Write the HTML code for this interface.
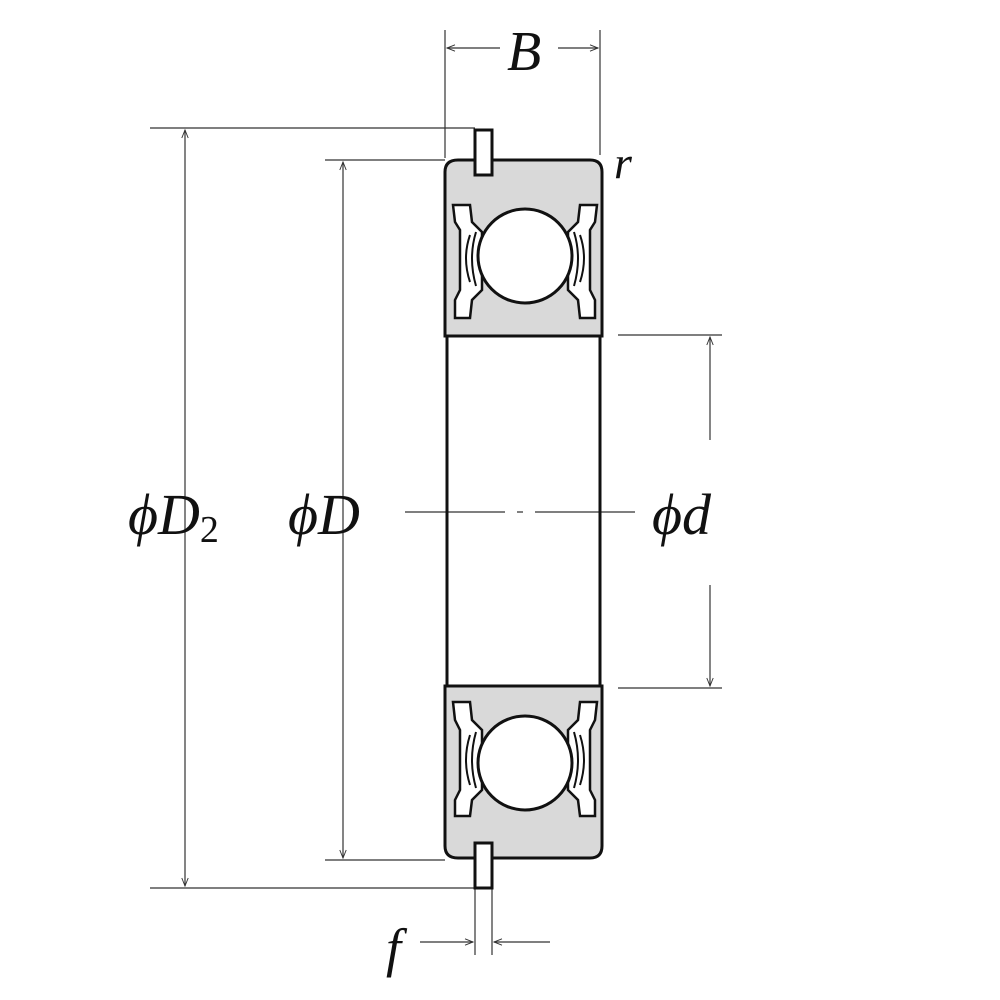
<!DOCTYPE html>
<html><head><style>
html,body{margin:0;padding:0;background:#fff}
svg{display:block}
text{font-family:"Liberation Serif",serif;font-style:italic;fill:#111}
</style></head><body>
<svg width="1000" height="1000" viewBox="0 0 1000 1000" xmlns="http://www.w3.org/2000/svg">
<defs>
<marker id="a" viewBox="0 0 10 10" refX="10" refY="5" markerWidth="12" markerHeight="8" orient="auto-start-reverse" markerUnits="userSpaceOnUse"><path d="M0,1 L10,5 L0,9" fill="none" stroke="#333" stroke-width="1.2"/></marker>
</defs>
<g stroke="#333" stroke-width="1.2" fill="none">
<line x1="150" y1="128" x2="475" y2="128"/>
<line x1="150" y1="888" x2="475" y2="888"/>
<line x1="325" y1="160" x2="445" y2="160"/>
<line x1="325" y1="860" x2="445" y2="860"/>
<line x1="618" y1="335" x2="722" y2="335"/>
<line x1="618" y1="688" x2="722" y2="688"/>
<line x1="445" y1="30" x2="445" y2="158"/>
<line x1="600" y1="30" x2="600" y2="155"/>
<line x1="185" y1="130" x2="185" y2="886" marker-start="url(#a)" marker-end="url(#a)"/>
<line x1="343" y1="162" x2="343" y2="858" marker-start="url(#a)" marker-end="url(#a)"/>
<line x1="710" y1="337" x2="710" y2="440" marker-start="url(#a)"/>
<line x1="710" y1="585" x2="710" y2="686" marker-end="url(#a)"/>
<line x1="447" y1="48" x2="500" y2="48" marker-start="url(#a)"/>
<line x1="558" y1="48" x2="598" y2="48" marker-end="url(#a)"/>
<line x1="475" y1="880" x2="475" y2="955"/>
<line x1="492" y1="880" x2="492" y2="955"/>
<line x1="420" y1="942" x2="473" y2="942" marker-end="url(#a)"/>
<line x1="550" y1="942" x2="494" y2="942" marker-end="url(#a)"/>
<line x1="405" y1="512" x2="640" y2="512" stroke-dasharray="100,12,6,12"/>
</g>
<g stroke="#111" stroke-width="3">
<path d="M458,160 H475 V175 H492 V160 H590 Q602,160 602,172 V336 H445 V172 Q445,160 458,160 Z" fill="#d9d9d9"/>
<path d="M445,686 H602 V846 Q602,858 590,858 H492 V843 H475 V858 H458 Q445,858 445,846 Z" fill="#d9d9d9"/>
<line x1="447" y1="336" x2="447" y2="686"/>
<line x1="600" y1="336" x2="600" y2="686"/>
<rect x="475" y="130" width="17" height="45" fill="#fff"/>
<rect x="475" y="843" width="17" height="45" fill="#fff"/>
</g>
<g stroke="#111" stroke-width="2.5" fill="#fff">
<path d="M453,205 L470,205 L472,222 L482,232 L482,290 L472,300 L470,318 L455,318 L455,300 L460,290 L460,230 L455,222 Z"/>
<path d="M597,205 L580,205 L578,222 L568,232 L568,290 L578,300 L580,318 L595,318 L595,300 L590,290 L590,230 L595,222 Z"/>
<path d="M453,702 L470,702 L472,720 L482,730 L482,790 L472,800 L470,816 L455,816 L455,800 L460,790 L460,730 L455,720 Z"/>
<path d="M597,702 L580,702 L578,720 L568,730 L568,790 L578,800 L580,816 L595,816 L595,800 L590,790 L590,730 L595,720 Z"/>
</g>
<g stroke="#111" stroke-width="2" fill="none">
<path d="M470,235 Q462,258 470,282"/><path d="M476,232 Q468,258 476,286"/>
<path d="M580,235 Q588,258 580,282"/><path d="M574,232 Q582,258 574,286"/>
<path d="M470,735 Q462,760 470,785"/><path d="M476,732 Q468,760 476,788"/>
<path d="M580,735 Q588,760 580,785"/><path d="M574,732 Q582,760 574,788"/>
</g>
<circle cx="525" cy="256" r="47" fill="#fff" stroke="#111" stroke-width="3"/>
<circle cx="525" cy="763" r="47" fill="#fff" stroke="#111" stroke-width="3"/>
<text x="507" y="70" font-size="56">B</text>
<text x="614" y="178" font-size="46">r</text>
<text x="128" y="534" font-size="58">ϕD<tspan font-size="38" dy="8" font-style="normal">2</tspan></text>
<text x="288" y="534" font-size="58">ϕD</text>
<text x="652" y="534" font-size="58">ϕd</text>
<text x="386" y="966" font-size="54">f</text>
</svg>
</body></html>
